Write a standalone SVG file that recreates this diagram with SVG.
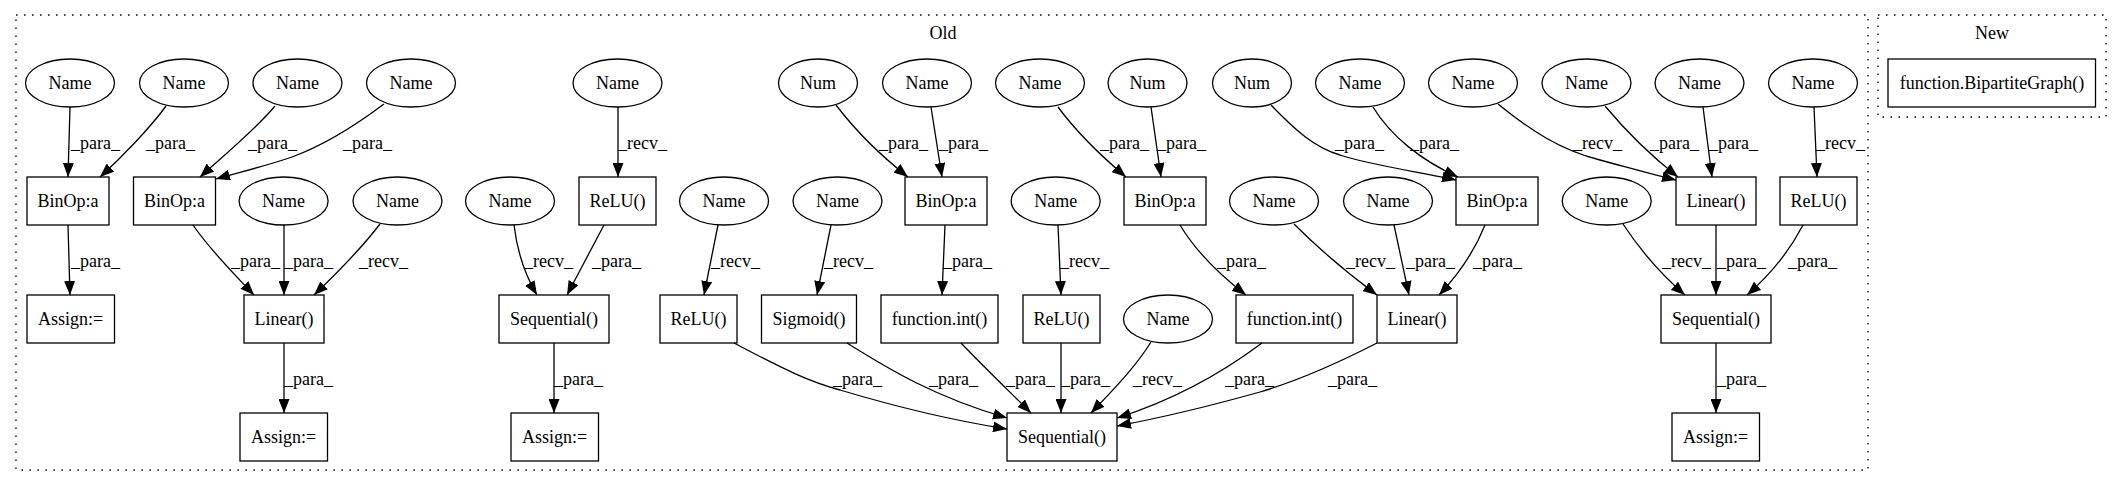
<svg xmlns="http://www.w3.org/2000/svg" width="2121" height="488" viewBox="0 0 2121 488">
<style>
text { font-family: "Liberation Serif", "Times New Roman", serif; font-size: 18px; fill: #000; }
.n ellipse, .n rect { fill: #fff; stroke: #000; stroke-width: 1.3; }
.n text { text-anchor: middle; }
.cl { fill: none; stroke: #000; stroke-width: 1.3; stroke-dasharray: 1.5 6.5; }
.ct { text-anchor: middle; }
#edges path { fill: none; stroke: #000; stroke-width: 1.3; marker-end: url(#ah); }
</style>
<defs>
<marker id="ah" markerUnits="userSpaceOnUse" markerWidth="14" markerHeight="11" viewBox="0 0 14 11" refX="14" refY="5.5" orient="auto">
<path d="M0,0 L14,5.5 L0,11 z" fill="#000"/>
</marker>
</defs>
<rect width="2121" height="488" fill="#fff"/>
<g id="cluster_old">
<rect class="cl" x="16" y="15" width="1852" height="455"/>
<text class="ct" x="943" y="39">Old</text>
</g>
<g id="cluster_new">
<rect class="cl" x="1878" y="15" width="228" height="102"/>
<text class="ct" x="1992" y="39">New</text>
</g>
<!-- row 1 -->
<g id="r1_1" class="n"><ellipse cx="70" cy="83" rx="44.5" ry="24"/><text x="70" y="89">Name</text></g>
<g id="r1_2" class="n"><ellipse cx="184" cy="83" rx="44.5" ry="24"/><text x="184" y="89">Name</text></g>
<g id="r1_3" class="n"><ellipse cx="297.5" cy="83" rx="44.5" ry="24"/><text x="297.5" y="89">Name</text></g>
<g id="r1_4" class="n"><ellipse cx="411" cy="83" rx="44.5" ry="24"/><text x="411" y="89">Name</text></g>
<g id="r1_5" class="n"><ellipse cx="617.5" cy="83" rx="44.5" ry="24"/><text x="617.5" y="89">Name</text></g>
<g id="r1_6" class="n"><ellipse cx="818" cy="83" rx="39.5" ry="24"/><text x="818" y="89">Num</text></g>
<g id="r1_7" class="n"><ellipse cx="927" cy="83" rx="44.5" ry="24"/><text x="927" y="89">Name</text></g>
<g id="r1_8" class="n"><ellipse cx="1040" cy="83" rx="44.5" ry="24"/><text x="1040" y="89">Name</text></g>
<g id="r1_9" class="n"><ellipse cx="1147.5" cy="83" rx="39.5" ry="24"/><text x="1147.5" y="89">Num</text></g>
<g id="r1_10" class="n"><ellipse cx="1252" cy="83" rx="39.5" ry="24"/><text x="1252" y="89">Num</text></g>
<g id="r1_11" class="n"><ellipse cx="1360" cy="83" rx="44.5" ry="24"/><text x="1360" y="89">Name</text></g>
<g id="r1_12" class="n"><ellipse cx="1473" cy="83" rx="44.5" ry="24"/><text x="1473" y="89">Name</text></g>
<g id="r1_13" class="n"><ellipse cx="1586.5" cy="83" rx="44.5" ry="24"/><text x="1586.5" y="89">Name</text></g>
<g id="r1_14" class="n"><ellipse cx="1699.5" cy="83" rx="44.5" ry="24"/><text x="1699.5" y="89">Name</text></g>
<g id="r1_15" class="n"><ellipse cx="1813" cy="83" rx="44.5" ry="24"/><text x="1813" y="89">Name</text></g>
<!-- row 2 -->
<g id="r2_1" class="n"><rect x="27" y="177" width="82" height="48"/><text x="68" y="207">BinOp:a</text></g>
<g id="r2_2" class="n"><rect x="133.5" y="177" width="82" height="48"/><text x="174.5" y="207">BinOp:a</text></g>
<g id="r2_3" class="n"><ellipse cx="283.6" cy="201" rx="44.5" ry="24"/><text x="283.6" y="207">Name</text></g>
<g id="r2_4" class="n"><ellipse cx="397.5" cy="201" rx="44.5" ry="24"/><text x="397.5" y="207">Name</text></g>
<g id="r2_5" class="n"><ellipse cx="510" cy="201" rx="44.5" ry="24"/><text x="510" y="207">Name</text></g>
<g id="r2_6" class="n"><rect x="579" y="177" width="77" height="48"/><text x="617.5" y="207">ReLU()</text></g>
<g id="r2_7" class="n"><ellipse cx="724" cy="201" rx="44.5" ry="24"/><text x="724" y="207">Name</text></g>
<g id="r2_8" class="n"><ellipse cx="837.5" cy="201" rx="44.5" ry="24"/><text x="837.5" y="207">Name</text></g>
<g id="r2_9" class="n"><rect x="905" y="177" width="82" height="48"/><text x="946" y="207">BinOp:a</text></g>
<g id="r2_10" class="n"><ellipse cx="1055.7" cy="201" rx="44.5" ry="24"/><text x="1055.7" y="207">Name</text></g>
<g id="r2_11" class="n"><rect x="1124" y="177" width="82" height="48"/><text x="1165" y="207">BinOp:a</text></g>
<g id="r2_12" class="n"><ellipse cx="1274" cy="201" rx="44.5" ry="24"/><text x="1274" y="207">Name</text></g>
<g id="r2_13" class="n"><ellipse cx="1388" cy="201" rx="44.5" ry="24"/><text x="1388" y="207">Name</text></g>
<g id="r2_14" class="n"><rect x="1456" y="177" width="82" height="48"/><text x="1497" y="207">BinOp:a</text></g>
<g id="r2_15" class="n"><ellipse cx="1606.7" cy="201" rx="44.5" ry="24"/><text x="1606.7" y="207">Name</text></g>
<g id="r2_16" class="n"><rect x="1676" y="177" width="80" height="48"/><text x="1716" y="207">Linear()</text></g>
<g id="r2_17" class="n"><rect x="1780" y="177" width="77" height="48"/><text x="1818.5" y="207">ReLU()</text></g>
<!-- row 3 -->
<g id="r3_1" class="n"><rect x="27" y="295" width="87.5" height="48"/><text x="70.7" y="325">Assign:=</text></g>
<g id="r3_2" class="n"><rect x="244" y="295" width="80" height="48"/><text x="284" y="325">Linear()</text></g>
<g id="r3_3" class="n"><rect x="499" y="295" width="110" height="48"/><text x="554" y="325">Sequential()</text></g>
<g id="r3_4" class="n"><rect x="660" y="295" width="77" height="48"/><text x="698.5" y="325">ReLU()</text></g>
<g id="r3_5" class="n"><rect x="761.5" y="295" width="95" height="48"/><text x="809" y="325">Sigmoid()</text></g>
<g id="r3_6" class="n"><rect x="881" y="295" width="117" height="48"/><text x="939.5" y="325">function.int()</text></g>
<g id="r3_7" class="n"><rect x="1023" y="295" width="77" height="48"/><text x="1061.5" y="325">ReLU()</text></g>
<g id="r3_8" class="n"><ellipse cx="1168" cy="319" rx="44.5" ry="24"/><text x="1168" y="325">Name</text></g>
<g id="r3_9" class="n"><rect x="1236" y="295" width="117" height="48"/><text x="1294.5" y="325">function.int()</text></g>
<g id="r3_10" class="n"><rect x="1377" y="295" width="80" height="48"/><text x="1417" y="325">Linear()</text></g>
<g id="r3_11" class="n"><rect x="1661" y="295" width="110" height="48"/><text x="1716" y="325">Sequential()</text></g>
<!-- row 4 -->
<g id="r4_1" class="n"><rect x="240" y="413" width="87.5" height="48"/><text x="283.7" y="443">Assign:=</text></g>
<g id="r4_2" class="n"><rect x="511" y="413" width="87.5" height="48"/><text x="554.7" y="443">Assign:=</text></g>
<g id="r4_3" class="n"><rect x="1007" y="413" width="110" height="48"/><text x="1062" y="443">Sequential()</text></g>
<g id="r4_4" class="n"><rect x="1672" y="413" width="87.5" height="48"/><text x="1715.7" y="443">Assign:=</text></g>
<!-- new -->
<g id="new_1" class="n"><rect x="1888" y="59" width="207.5" height="48"/><text x="1992" y="89">function.BipartiteGraph()</text></g>
<g id="edges">
<path d="M70,107 L68,177"/>
<path d="M166,106 C150,128 122,157 100,177"/>
<path d="M275,106 C255,130 222,157 200,177"/>
<path d="M384,104 C352,128 322,146 292,157 C266,166 240,172 216,179"/>
<path d="M68,225 L70,295"/>
<path d="M193,225 C210,250 235,275 254,295"/>
<path d="M284,225 L284,295"/>
<path d="M380,224 C360,250 335,275 314,295"/>
<path d="M284,343 L284,413"/>
<path d="M514,225 C517,250 525,275 537,295"/>
<path d="M618,107 L618,177"/>
<path d="M604,225 L567,295"/>
<path d="M554,343 L554,413"/>
<path d="M836,105 C855,130 880,155 908,177"/>
<path d="M931,107 L942,177"/>
<path d="M718,225 L704,295"/>
<path d="M831,225 L817,295"/>
<path d="M945,225 L942,295"/>
<path d="M1058,225 L1061,295"/>
<path d="M734,343 C785,370 810,382 840,390 C900,408 950,420 1007,429"/>
<path d="M847,343 C890,370 935,397 1007,418"/>
<path d="M961,343 C985,368 1010,392 1031,413"/>
<path d="M1061,343 L1061,413"/>
<path d="M1151,342 C1135,368 1110,393 1091,413"/>
<path d="M1262,343 C1230,367 1180,398 1117,418"/>
<path d="M1377,343 C1340,362 1300,380 1260,392 C1210,406 1160,418 1117,426"/>
<path d="M1058,107 C1075,130 1100,155 1126,177"/>
<path d="M1151,107 L1161,177"/>
<path d="M1271,105 C1295,130 1315,148 1340,155 C1370,165 1420,172 1456,180"/>
<path d="M1373,107 C1390,135 1420,160 1458,177"/>
<path d="M1498,104 C1530,130 1560,150 1600,160 C1630,168 1655,175 1676,180"/>
<path d="M1605,106 C1625,130 1650,155 1678,177"/>
<path d="M1703,107 L1712,177"/>
<path d="M1814,107 L1817,177"/>
<path d="M1180,225 C1195,250 1220,275 1246,295"/>
<path d="M1294,224 C1320,250 1350,275 1377,295"/>
<path d="M1394,225 L1409,295"/>
<path d="M1485,225 C1475,250 1458,275 1439,295"/>
<path d="M1623,224 C1640,250 1662,275 1685,295"/>
<path d="M1716,225 L1716,295"/>
<path d="M1803,225 C1790,250 1770,275 1747,295"/>
<path d="M1716,343 L1716,413"/>
<g id="edge_labels">
<text x="71" y="149">_para_</text>
<text x="146" y="149">_para_</text>
<text x="248" y="149">_para_</text>
<text x="343" y="149">_para_</text>
<text x="618" y="149">_recv_</text>
<text x="879" y="149">_para_</text>
<text x="939" y="149">_para_</text>
<text x="1100" y="149">_para_</text>
<text x="1157" y="149">_para_</text>
<text x="1335" y="149">_para_</text>
<text x="1410" y="149">_para_</text>
<text x="1573" y="149">_recv_</text>
<text x="1650" y="149">_para_</text>
<text x="1709" y="149">_para_</text>
<text x="1816" y="149">_recv_</text>
<text x="71" y="267">_para_</text>
<text x="231" y="267">_para_</text>
<text x="284" y="267">_para_</text>
<text x="359" y="267">_recv_</text>
<text x="524" y="267">_recv_</text>
<text x="592" y="267">_para_</text>
<text x="711" y="267">_recv_</text>
<text x="824" y="267">_recv_</text>
<text x="943" y="267">_para_</text>
<text x="1060" y="267">_recv_</text>
<text x="1217" y="267">_para_</text>
<text x="1346" y="267">_recv_</text>
<text x="1406" y="267">_para_</text>
<text x="1473" y="267">_para_</text>
<text x="1662" y="267">_recv_</text>
<text x="1717" y="267">_para_</text>
<text x="1788" y="267">_para_</text>
<text x="284" y="385">_para_</text>
<text x="554" y="385">_para_</text>
<text x="833" y="385">_para_</text>
<text x="929" y="385">_para_</text>
<text x="1006" y="385">_para_</text>
<text x="1061" y="385">_para_</text>
<text x="1133" y="385">_recv_</text>
<text x="1225" y="385">_para_</text>
<text x="1328" y="385">_para_</text>
<text x="1717" y="385">_para_</text>
</g>
</g>
</svg>
